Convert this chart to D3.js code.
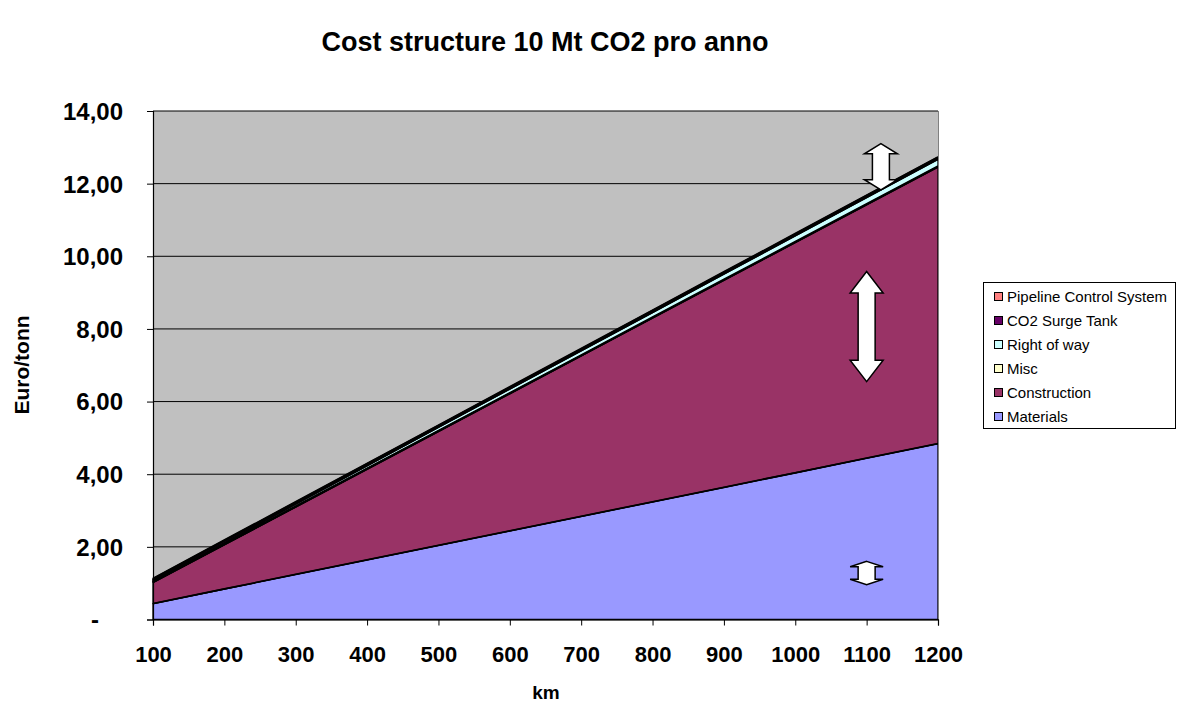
<!DOCTYPE html>
<html><head><meta charset="utf-8">
<script src="https://cdn.jsdelivr.net/npm/d3@7"></script>
<style>body{margin:0;background:#fff}svg{display:block}text{font-family:"Liberation Sans",Arial,sans-serif}</style>
</head><body>
<svg id="c" width="1177" height="702"></svg>
<script>
const km = [100,200,300,400,500,600,700,800,900,1000,1100,1200];
const materials    = [0.44,0.84,1.24,1.64,2.04,2.44,2.84,3.24,3.64,4.04,4.44,4.84];
const construction = [0.58,1.22,1.86,2.50,3.14,3.78,4.42,5.06,5.70,6.34,6.98,7.62];
const misc         = [0.03,0.03,0.03,0.03,0.03,0.03,0.03,0.03,0.03,0.03,0.03,0.03];
const rightOfWay   = [0.015,0.03,0.045,0.06,0.075,0.09,0.105,0.12,0.135,0.15,0.165,0.18];
const surgeTank    = [0.04,0.04,0.04,0.04,0.04,0.04,0.04,0.04,0.04,0.04,0.04,0.04];
const controlSys   = [0.02,0.02,0.02,0.02,0.02,0.02,0.02,0.02,0.02,0.02,0.02,0.02];
const yTicks = [0,2,4,6,8,10,12,14];
const yTickLabels = ["-","2,00","4,00","6,00","8,00","10,00","12,00","14,00"];
const seriesNames = ["Materials","Construction","Misc","Right of way","CO2 Surge Tank","Pipeline Control System"];
const seriesColors = ["#9999FF","#993366","#FFFFCC","#CCFFFF","#660066","#FF8080"];
const seriesValues = [materials,construction,misc,rightOfWay,surgeTank,controlSys];

const svg = d3.select("#c");
const L=153,R=938,T=111,B=619.5;
const x = d3.scaleLinear().domain([100,1200]).range([L,R]);
const y = d3.scaleLinear().domain([0,14]).range([B,T]);

svg.append("rect").attr("x",L).attr("y",T).attr("width",R-L).attr("height",B-T).attr("fill","#C0C0C0");
svg.append("g").selectAll("line").data(yTicks.filter(d=>d>0)).join("line")
  .attr("x1",L).attr("x2",R).attr("y1",d=>y(d)).attr("y2",d=>y(d)).attr("stroke","#000").attr("stroke-width",1);

const rows = km.map((k,i)=>{const o={km:k}; seriesNames.forEach((n,j)=>o[n]=seriesValues[j][i]); return o;});
const stack = d3.stack().keys(seriesNames)(rows);
const area = d3.area().x(d=>x(d.data.km)).y0(d=>y(d[0])).y1(d=>y(d[1]));
svg.append("g").selectAll("path").data(stack).join("path")
  .attr("d",area).attr("fill",(d,i)=>seriesColors[i]).attr("stroke","#000").attr("stroke-width",1.3).attr("stroke-linejoin","round");
const line = d3.line().x(d=>x(d.data.km)).y(d=>y(d[1]));
[0,1,5].forEach(i=>{
  svg.append("path").attr("d",line(stack[i])).attr("fill","none").attr("stroke","#000").attr("stroke-width",i==5?2.2:1.8);
});

svg.append("line").attr("x1",R+0.5).attr("x2",R+0.5).attr("y1",T).attr("y2",B).attr("stroke","#808080");
svg.append("line").attr("x1",L).attr("x2",R).attr("y1",T-0.5).attr("y2",T-0.5).attr("stroke","#808080");

const yAxis = d3.axisLeft(y).tickValues(yTicks).tickFormat((d,i)=>yTickLabels[i]).tickSize(6).tickPadding(24);
const gy = svg.append("g").attr("transform",`translate(${L},0)`).call(yAxis);
const xAxis = d3.axisBottom(x).tickValues(km).tickFormat(d=>d).tickSize(6).tickPadding(29);
const gx = svg.append("g").attr("transform",`translate(0,${B})`).call(xAxis);
[gx,gy].forEach(g=>{
  g.select(".domain").attr("stroke","#000").attr("stroke-width",1.2);
  g.selectAll(".tick line").attr("stroke","#000");
  g.selectAll("text").attr("font-weight","bold").attr("fill","#000").attr("font-family","'Liberation Sans',Arial,sans-serif");
});
gx.selectAll("text").attr("font-size",22).attr("dy","0.35em");
gy.selectAll("text").attr("font-size",24).attr("dy","0.35em");
gy.selectAll(".tick").filter(d=>d===0).select("text").attr("dx",-24);

svg.append("text").attr("x",545).attr("y",51).attr("text-anchor","middle").attr("font-size",27).attr("font-weight","bold").text("Cost structure 10 Mt CO2 pro anno");
svg.append("text").attr("x",546).attr("y",699).attr("text-anchor","middle").attr("font-size",19).attr("font-weight","bold").text("km");
svg.append("text").attr("transform","translate(29,365) rotate(-90)").attr("text-anchor","middle").attr("font-size",21).attr("font-weight","bold").text("Euro/tonn");

const arrows = [
  {k:1120, top:13.1, bot:11.83, head:0.28},
  {k:1100, top:9.58, bot:6.55, head:0.59},
  {k:1100, top:1.6,  bot:0.96, head:0.15}
];
arrows.forEach(a=>{
  const cx=x(a.k), t=y(a.top), b=y(a.bot), hh=y(0)-y(a.head), hw=16.5, sw=8.5;
  const p = `M${cx},${t} L${cx+hw},${t+hh} L${cx+sw},${t+hh} L${cx+sw},${b-hh} L${cx+hw},${b-hh} L${cx},${b} L${cx-hw},${b-hh} L${cx-sw},${b-hh} L${cx-sw},${t+hh} L${cx-hw},${t+hh} Z`;
  svg.append("path").attr("d",p).attr("fill","#fff").attr("stroke","#000").attr("stroke-width",1.5);
});

const lg = svg.append("g");
lg.append("rect").attr("x",983.5).attr("y",282.5).attr("width",192).attr("height",146).attr("fill","#fff").attr("stroke","#000");
const legendOrder = [5,4,3,2,1,0];
legendOrder.forEach((si,i)=>{
  const yy = 297 + i*24;
  lg.append("rect").attr("x",994.5).attr("y",yy-4.5).attr("width",8).attr("height",8).attr("fill",seriesColors[si]).attr("stroke","#000");
  lg.append("text").attr("x",1007).attr("y",yy).attr("dy","0.35em").attr("font-size",15).text(seriesNames[si]);
});
</script>
</body></html>
